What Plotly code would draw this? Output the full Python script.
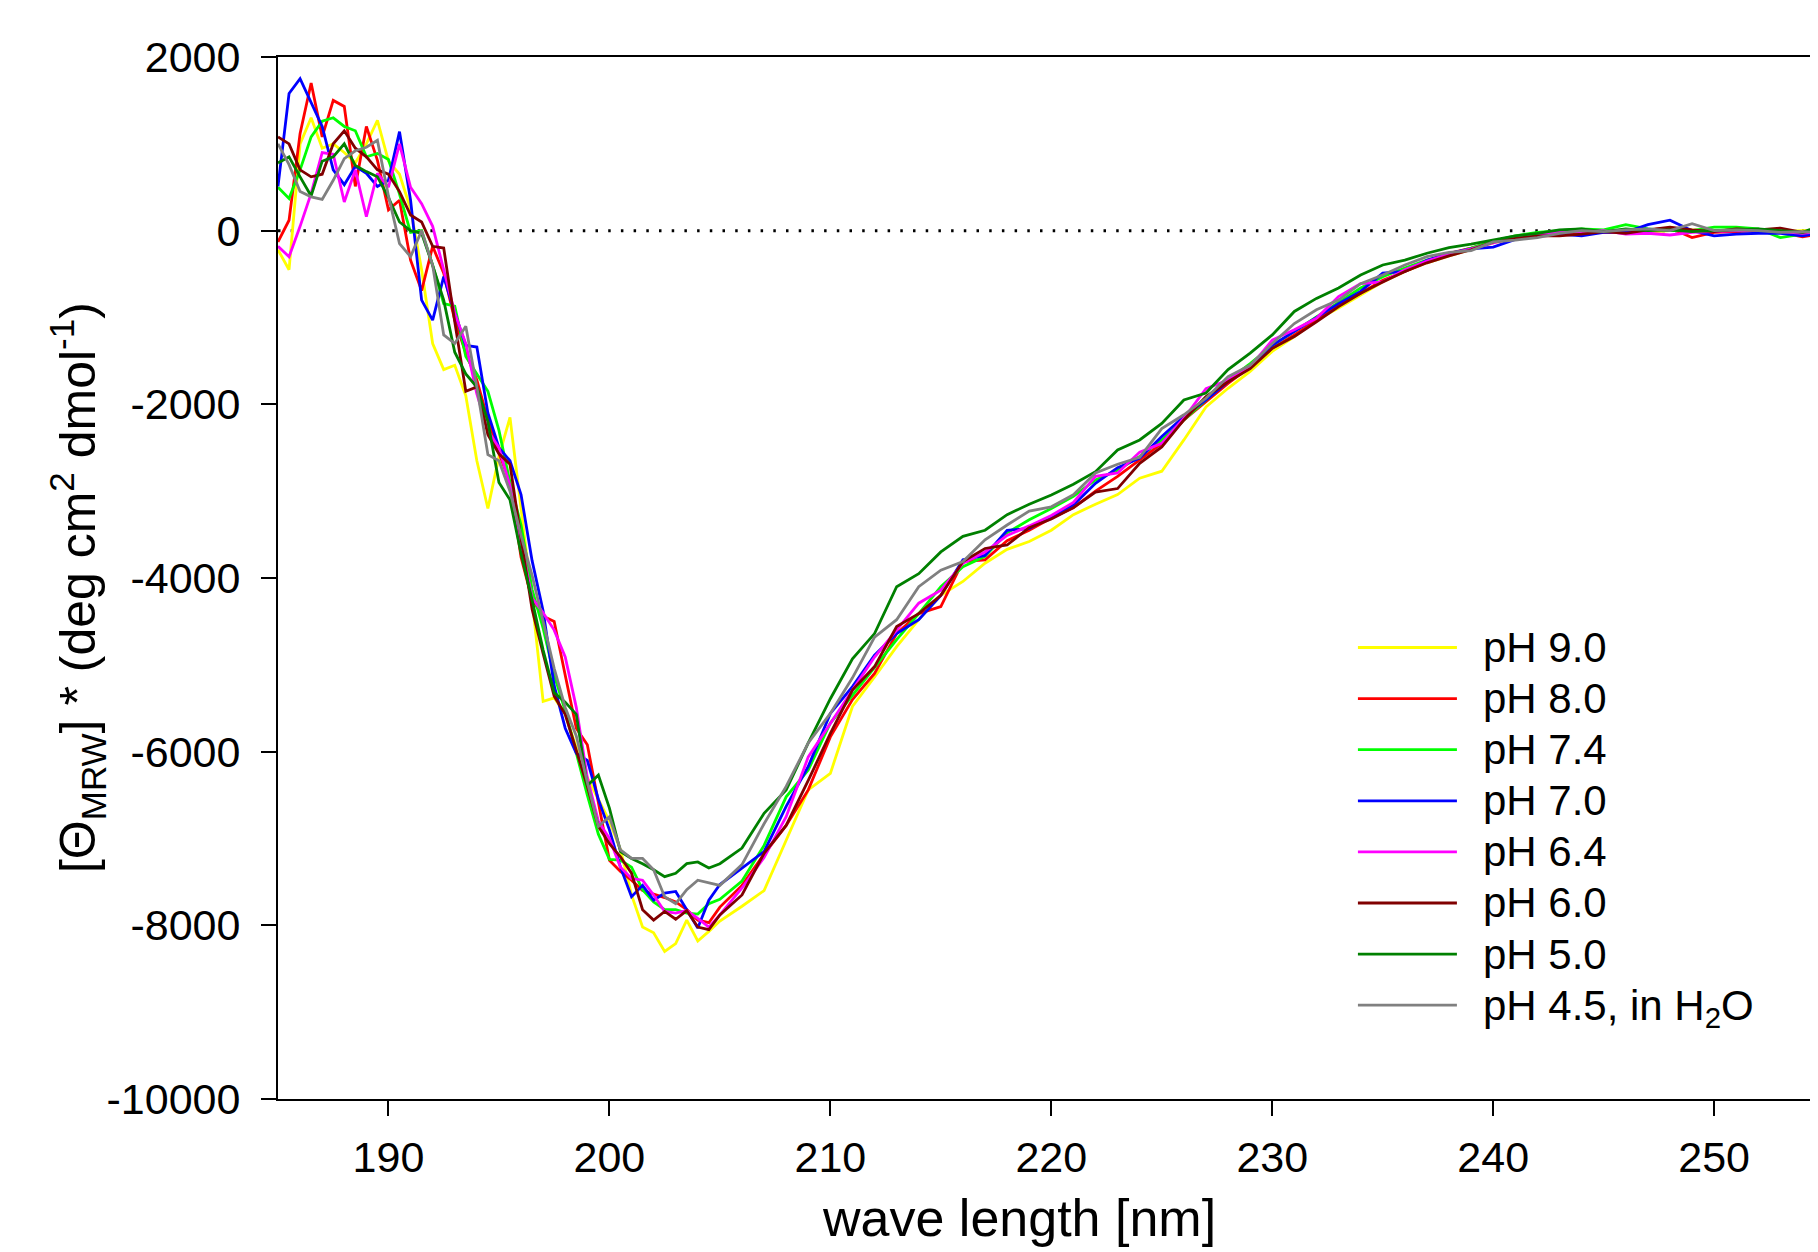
import plotly.graph_objects as go

# Wavelength grid [nm]: 0.5 nm steps 185-205, then 1 nm steps 206-255
WAVELENGTH = [
    185.0, 185.5, 186.0, 186.5, 187.0, 187.5, 188.0, 188.5, 189.0, 189.5,
    190.0, 190.5, 191.0, 191.5, 192.0, 192.5, 193.0, 193.5, 194.0, 194.5,
    195.0, 195.5, 196.0, 196.5, 197.0, 197.5, 198.0, 198.5, 199.0, 199.5,
    200.0, 200.5, 201.0, 201.5, 202.0, 202.5, 203.0, 203.5, 204.0, 204.5,
    205.0,
    206, 207, 208, 209, 210, 211, 212, 213, 214, 215,
    216, 217, 218, 219, 220, 221, 222, 223, 224, 225,
    226, 227, 228, 229, 230, 231, 232, 233, 234, 235,
    236, 237, 238, 239, 240, 241, 242, 243, 244, 245,
    246, 247, 248, 249, 250, 251, 252, 253, 254, 255,
]

PH_9_0 = [
    -220, -450, 1000, 1300, 950, 1000, 900, 780, 1000, 1270,
    800, 650, 250, -450, -1300, -1600, -1550, -1900, -2650, -3200,
    -2600, -2150, -3200, -4250, -5420, -5380, -5570, -5950, -6300, -6550,
    -6800, -7130, -7650, -8020, -8085, -8300, -8210, -7940, -8180, -8070,
    -7950,
    -7780, -7600, -7020, -6440, -6250, -5480, -5140, -4790, -4480, -4200,
    -4040, -3830, -3670, -3580, -3450, -3270, -3150, -3040, -2850, -2770,
    -2410, -2030, -1815, -1620, -1390, -1220, -1030, -890, -740, -590,
    -470, -370, -290, -215, -140, -90, -50, -30, -20, 0,
    -10, -20, 0, 10, 0, 10, 0, -10, 0, 10,
]

PH_8_0 = [
    -130, 120, 1120, 1700, 1080, 1500, 1430, 510, 1200, 810,
    240, 350, -340, -690, -180, -490, -1030, -1410, -1720, -2180,
    -2560, -2900, -3760, -4250, -4440, -4500, -5120, -5730, -5920, -6600,
    -7250, -7380, -7480, -7600, -7640, -7680, -7730, -7820, -7940, -7970,
    -7790,
    -7540, -7180, -6850, -6440, -5830, -5400, -5100, -4640, -4410, -4330,
    -3810, -3790, -3570, -3450, -3310, -3190, -3000, -2830, -2640, -2450,
    -2180, -1970, -1760, -1570, -1355, -1200, -1030, -840, -720, -570,
    -470, -360, -260, -200, -125, -80, -40, -50, -10, -20,
    -10, 10, 30, -80, -20, -10, 0, -20, -70, -30,
]

PH_7_4 = [
    500, 370, 700, 1080, 1260, 1300, 1200, 1150, 850, 890,
    820, 420, -20, 0, -400, -840, -870, -1450, -1650, -1850,
    -2300, -2900, -3390, -4130, -4580, -5120, -5530, -6020, -6500, -6950,
    -7240, -7250, -7330, -7590, -7730, -7820, -7820, -7860, -7870, -7750,
    -7700,
    -7490, -7080, -6520, -6210, -5670, -5350, -5020, -4710, -4410, -4100,
    -3870, -3750, -3480, -3330, -3200, -3060, -2870, -2760, -2600, -2410,
    -2180, -1950, -1720, -1530, -1320, -1160, -990, -820, -660, -530,
    -430, -340, -270, -200, -120, -60, -20, 0, 20, 10,
    70, 20, 0, 0, 40, 40, 20, -80, -40, 60,
]

PH_7_0 = [
    510, 1580, 1750, 1470, 1200, 700, 530, 740, 660, 510,
    580, 1140, 350, -800, -1030, -530, -950, -1320, -1340, -2100,
    -2500, -2650, -3040, -3800, -4380, -5240, -5730, -6020, -6100, -6550,
    -6900, -7330, -7670, -7540, -7710, -7630, -7610, -7820, -8030, -7710,
    -7530,
    -7340, -7150, -6630, -6170, -5560, -5250, -4890, -4640, -4480, -4200,
    -3790, -3740, -3450, -3430, -3290, -3160, -2910, -2730, -2620, -2370,
    -2140, -1950, -1740, -1570, -1320, -1160, -1010, -840, -700, -490,
    -470, -340, -260, -210, -190, -100, -60, -40, -60, -20,
    -20, 70, 120, 0, -60, -40, -30, -30, -60, -20,
]

PH_6_4 = [
    -180, -300, 50, 430, 900, 880, 330, 700, 160, 660,
    500, 1000, 500, 310, 50, -460, -950, -1300, -1880, -2300,
    -2500, -2940, -3600, -4230, -4400, -4600, -4910, -5490, -6300, -6800,
    -7000, -7330, -7460, -7480, -7650, -7840, -7860, -7830, -7920, -8020,
    -7880,
    -7570, -7220, -6750, -6060, -5670, -5290, -4910, -4600, -4290, -4140,
    -3830, -3700, -3510, -3400, -3280, -3130, -2830, -2790, -2550, -2450,
    -2160, -1820, -1720, -1570, -1260, -1140, -1010, -760, -610, -590,
    -450, -350, -270, -210, -140, -80, -50, -10, -10, 0,
    -40, -30, -50, -20, -10, 0, 10, -10, -30, -10,
]

PH_6_0 = [
    1080, 1000, 700, 620, 650, 1000, 1150, 950, 850, 700,
    650, 450, 180, 100, -180, -200, -1050, -1850, -1800, -2350,
    -2570, -2690, -3550, -4360, -4870, -5360, -5570, -5980, -6400, -6860,
    -7060, -7210, -7400, -7820, -7940, -7840, -7930, -7830, -8020, -8050,
    -7880,
    -7650, -7170, -6850, -6330, -5790, -5290, -5020, -4560, -4410, -4200,
    -3810, -3660, -3620, -3420, -3320, -3190, -3010, -2970, -2680, -2490,
    -2180, -1910, -1740, -1590, -1355, -1220, -1050, -875, -720, -590,
    -470, -370, -290, -220, -130, -90, -60, -60, -40, -10,
    -30, 10, 40, 10, -10, 20, 10, 30, -20, 20,
]

PH_5_0 = [
    780, 850, 620, 400, 800, 850, 1000, 750, 680, 620,
    380, 100, 0, -30, -400, -800, -1400, -1650, -1800, -2200,
    -2900, -3100, -3720, -4250, -4830, -5320, -5430, -5570, -6390, -6270,
    -6650, -7150, -7230, -7290, -7360, -7440, -7400, -7290, -7270, -7340,
    -7290,
    -7110, -6710, -6440, -5900, -5390, -4930, -4640, -4100, -3950, -3700,
    -3520, -3450, -3270, -3150, -3044, -2920, -2775, -2525, -2410, -2220,
    -1950, -1870, -1600, -1410, -1200, -930, -780, -660, -510, -395,
    -340, -260, -195, -155, -110, -60, -30, 10, 20, -10,
    20, 0, 10, -10, 0, 10, 20, 0, -20, 80,
]

PH_4_5_H2O = [
    1000, 760, 450, 390, 360, 580, 830, 920, 960, 1040,
    400, -150, -300, 0, -400, -1200, -1300, -1100, -1800, -2580,
    -2650, -3000, -3510, -3970, -4500, -5040, -5490, -5820, -6350, -6860,
    -6750, -7130, -7230, -7230, -7360, -7670, -7750, -7590, -7480, -7510,
    -7540,
    -7300, -6830, -6400, -5900, -5560, -5150, -4680, -4480, -4100, -3910,
    -3810, -3560, -3390, -3230, -3180, -3040, -2790, -2690, -2610, -2280,
    -2120, -1930, -1680, -1550, -1300, -1070, -910, -800, -610, -510,
    -395, -300, -250, -230, -130, -110, -80, -30, 0, -10,
    10, 20, 0, 80, 0, 10, 0, -20, -10, -30,
]

SERIES_NAMES = ["pH 9.0", "pH 8.0", "pH 7.4", "pH 7.0", "pH 6.4", "pH 6.0",
                "pH 5.0", "pH 4.5, in H<sub>2</sub>O"]
SERIES_VALUES = [PH_9_0, PH_8_0, PH_7_4, PH_7_0, PH_6_4, PH_6_0, PH_5_0, PH_4_5_H2O]
SERIES_COLORS = ["#ffff00", "#ff0000", "#00ff00", "#0000ff", "#ff00ff",
                 "#800000", "#008000", "#808080"]

X_TICKS = [190, 200, 210, 220, 230, 240, 250]
Y_TICKS = [2000, 0, -2000, -4000, -6000, -8000, -10000]
Y_TICK_LABELS = ["2000", "0", "-2000", "-4000", "-6000", "-8000", "-10000"]
X_TITLE = "wave length [nm]"
Y_TITLE = "[\u0398<sub>MRW</sub>] * (deg cm<sup>2</sup> dmol<sup>-1</sup>)"

FONT = "Liberation Sans, Arial, Helvetica, sans-serif"

fig = go.Figure()

for name, vals, col in zip(SERIES_NAMES, SERIES_VALUES, SERIES_COLORS):
    fig.add_trace(go.Scatter(
        x=WAVELENGTH, y=vals, mode="lines",
        name='<span style="font-size:42px">\u2002' + name + '</span>',
        line=dict(color=col, width=2.8),
    ))

# dotted zero reference line
fig.add_shape(type="line", xref="paper", yref="y", x0=0, x1=1, y0=0, y1=0,
              line=dict(color="black", width=3, dash="2.5px,10.2px"),
              layer="below")

# axis titles, placed where the original figure has them
fig.add_annotation(text=X_TITLE, xref="paper", yref="paper",
                   x=0.4812, y=-0.114, xanchor="center", yanchor="middle",
                   showarrow=False, font=dict(family=FONT, size=52, color="black"))
fig.add_annotation(text=Y_TITLE, xref="paper", yref="paper", textangle=-90,
                   x=-0.1305, y=0.4904, xanchor="center", yanchor="middle",
                   showarrow=False, font=dict(family=FONT, size=50, color="black"))

fig.update_layout(
    width=1810, height=1244,
    margin=dict(l=270, r=0, t=49, b=153),
    paper_bgcolor="white", plot_bgcolor="white",
    font=dict(family=FONT, size=43, color="black"),
    showlegend=True,
    legend=dict(
        x=0.698, y=0.4626, xanchor="left", yanchor="top",
        bgcolor="rgba(0,0,0,0)", borderwidth=0,
        font=dict(family=FONT, size=37, color="black"),
        itemwidth=99, tracegroupgap=0,
    ),
    xaxis=dict(
        range=[185, 254.7], tickvals=X_TICKS,
        ticks="outside", ticklen=15, tickwidth=1.5, tickcolor="black",
        showline=True, linecolor="black", linewidth=2, mirror=True,
        showgrid=False, zeroline=False,
        tickfont=dict(family=FONT, size=43),
        ticklabelstandoff=4,
    ),
    yaxis=dict(
        range=[-10000, 2000], tickvals=Y_TICKS, ticktext=Y_TICK_LABELS,
        ticks="outside", ticklen=15, tickwidth=1.5, tickcolor="black",
        showline=True, linecolor="black", linewidth=2, mirror=False,
        showgrid=False, zeroline=False,
        tickfont=dict(family=FONT, size=43),
        ticklabelstandoff=12,
    ),
)

fig.write_html("out.html")
